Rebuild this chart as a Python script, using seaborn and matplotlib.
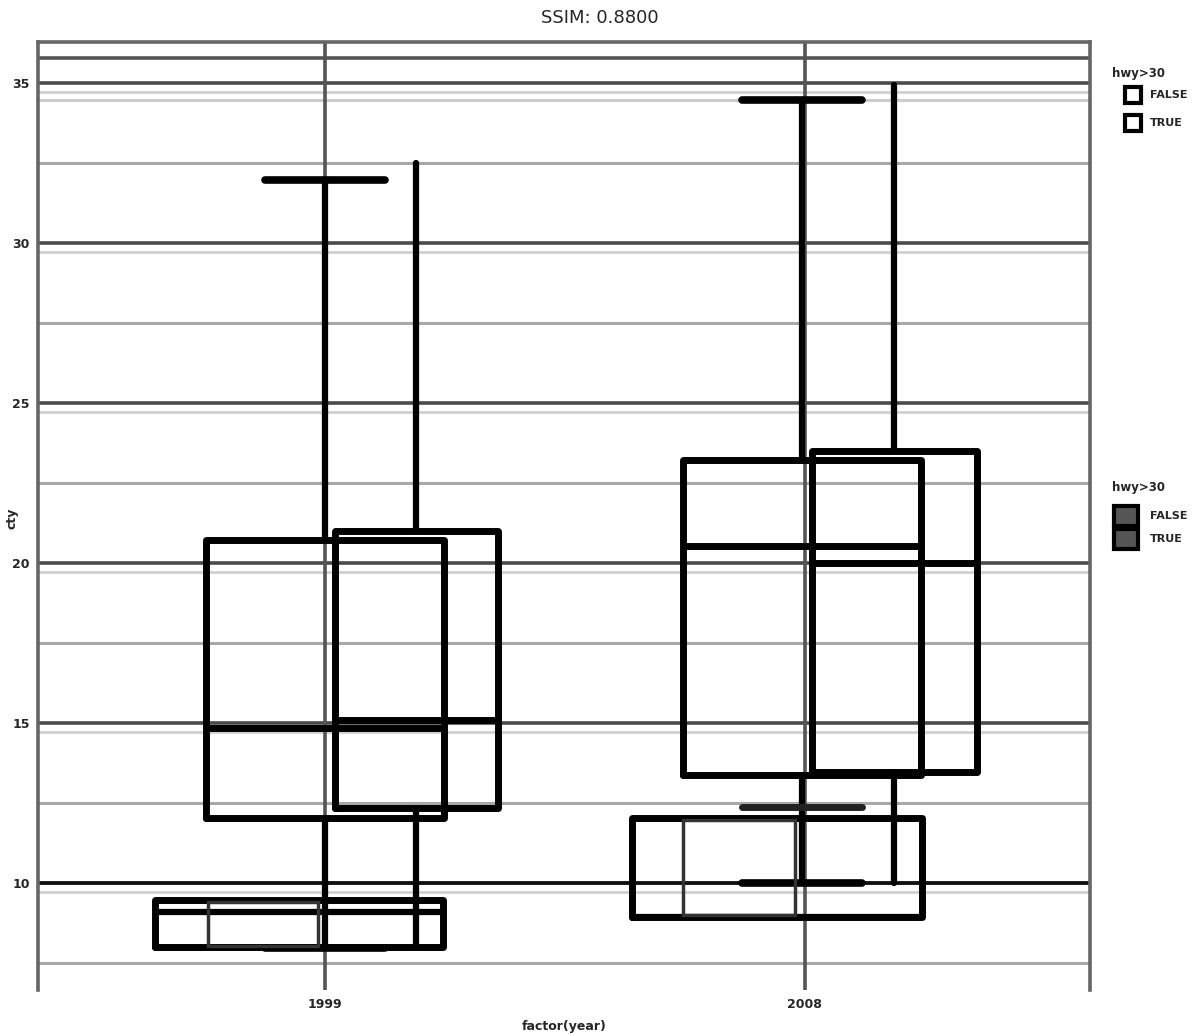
import numpy as np
import pandas as pd
import seaborn as sns
import matplotlib
matplotlib.use("Agg")
import matplotlib.pyplot as plt
from matplotlib.patches import Rectangle

# data (y in cty units, x in category units: 1999 -> 0, 2008 -> 1)
years = ["1999", "2008"]
y_ticks = [10, 15, 20, 25, 30, 35]
y_minor = [7.5, 12.5, 17.5, 22.5, 27.5, 32.5]

# main boxes: position, width, q1, median, q3, whisker low, whisker high, cap width
box_pos = [0.0, 0.19, 0.994, 1.186]
box_width = [0.496, 0.34, 0.496, 0.344]
box_q1 = [12.03, 12.34, 13.38, 13.47]
box_med = [14.84, 15.09, 20.53, 20.0]
box_q3 = [20.72, 21.0, 23.22, 23.5]
box_lo = [7.97, 8.06, 10.0, 10.0]
box_hi = [31.97, 32.5, 34.47, 34.94]
box_cap = [0.25, 0.0, 0.25, 0.0]

# small boxes near the bottom
small_pos = [-0.054, 0.942]
small_width = [0.6, 0.604]
small_q1 = [8.0, 8.94]
small_med = [9.09, 8.94]
small_q3 = [9.47, 12.03]

inner_pos = [-0.129, 0.8625]
inner_width = [0.229, 0.233]
inner_q1 = [8.03, 9.0]
inner_q3 = [9.4, 11.97]

extra_caps_y = [12.375]
extra_caps_x = [0.994]

legend_labels = ["FALSE", "TRUE"]

sns.set_theme(style="white")
plt.rcParams['font.family'] = ['DejaVu Sans']

fig = plt.figure(figsize=(12, 10.34), dpi=100)
ax = fig.add_axes([38 / 1200, 1 - 990 / 1034, 1052 / 1200, 948 / 1034])
ax.set_xlim(-0.598, 1.594)
ax.set_ylim(6.656, 36.28)

# grid
for v in y_minor:
    ax.axhline(v, color="#a8a8a8", lw=2.2, zorder=1)
for v in y_ticks:
    ax.axhline(v, color="#4a4a4a", lw=2.6, zorder=1)
    ax.axhline(v - 0.28, color="#d0d0d0", lw=2.0, zorder=1)
ax.axhline(35.78, color="#555555", lw=2.6, zorder=1)
ax.axhline(34.47, color="#cccccc", lw=2.2, zorder=1)
for x in [0, 1]:
    ax.axvline(x, color="#555555", lw=2.6, zorder=1)

ax.axhline(10, color="#111111", lw=2.6, zorder=1)

# main boxplots
for i in range(len(box_pos)):
    st = dict(med=box_med[i], q1=box_q1[i], q3=box_q3[i],
              whislo=box_lo[i], whishi=box_hi[i], fliers=[])
    ax.bxp([st], positions=[box_pos[i]], widths=[box_width[i]],
           capwidths=[box_cap[i]], showfliers=False, manage_ticks=False,
           boxprops=dict(color="black", lw=5),
           medianprops=dict(color="black", lw=5),
           whiskerprops=dict(color="black", lw=4.5, solid_capstyle="round"),
           capprops=dict(color="black", lw=5.5, solid_capstyle="round"),
           zorder=3)

# small boxes at the bottom
for i in range(len(small_pos)):
    ax.bxp([dict(med=small_med[i], q1=small_q1[i], q3=small_q3[i],
                 whislo=small_q1[i], whishi=small_q3[i], fliers=[])],
           positions=[small_pos[i]], widths=[small_width[i]],
           capwidths=[0], showfliers=False, manage_ticks=False,
           boxprops=dict(color="black", lw=5),
           medianprops=dict(color="black", lw=4.5),
           whiskerprops=dict(lw=0), capprops=dict(lw=0), zorder=3)
    ax.add_patch(Rectangle((inner_pos[i] - inner_width[i] / 2, inner_q1[i]),
                           inner_width[i], inner_q3[i] - inner_q1[i],
                           fill=False, ec="#333333", lw=2.5, zorder=4))

for y, x in zip(extra_caps_y, extra_caps_x):
    ax.plot([x - 0.125, x + 0.125], [y, y], color="#222222", lw=5,
            solid_capstyle="round", zorder=3)

# frame
for s in ["left", "top", "right"]:
    ax.spines[s].set_visible(True)
    ax.spines[s].set_color("#666666")
    ax.spines[s].set_linewidth(2.6)
ax.spines["bottom"].set_visible(False)

ax.set_xticks([0, 1])
ax.set_xticklabels(years, fontsize=9, fontweight="bold")
ax.set_yticks(y_ticks)
ax.set_yticklabels([str(v) for v in y_ticks], fontsize=9, fontweight="bold")
ax.tick_params(axis="both", length=4, width=2, color="#333333", pad=2)
ax.set_xlabel("factor(year)", fontsize=9, fontweight="bold", labelpad=6)
fig.text(12 / 1200, 1 - 518 / 1034, "cty", fontsize=9, fontweight="bold",
         rotation=90, ha="center", va="center")

# legends
fig.text(1112 / 1200, 1 - 73 / 1034, "hwy>30", fontsize=8.5, fontweight="bold", va="center")
for k, lab in enumerate(legend_labels):
    yy = 1 - (95 + 28 * k) / 1034
    fig.patches.append(Rectangle((1125 / 1200, yy - 8 / 1034), 16 / 1200, 16 / 1034,
                                 transform=fig.transFigure, fc="white", ec="black", lw=3))
    fig.text(1150 / 1200, yy, lab, fontsize=8, fontweight="bold", va="center")

fig.text(1112 / 1200, 1 - 488 / 1034, "hwy>30", fontsize=8.5, fontweight="bold", va="center")
for k, lab in enumerate(legend_labels):
    yy = 1 - (516 + 23 * k) / 1034
    fig.patches.append(Rectangle((1114 / 1200, yy - 10 / 1034), 24 / 1200, 20 / 1034,
                                 transform=fig.transFigure, fc="#555555", ec="black", lw=3))
    fig.text(1150 / 1200, yy, lab, fontsize=8, fontweight="bold", va="center")

fig.suptitle("SSIM: 0.8800", y=1 - 18 / 1034, va="center", fontsize=13)

fig.savefig("out.png", dpi=100, facecolor="white")
